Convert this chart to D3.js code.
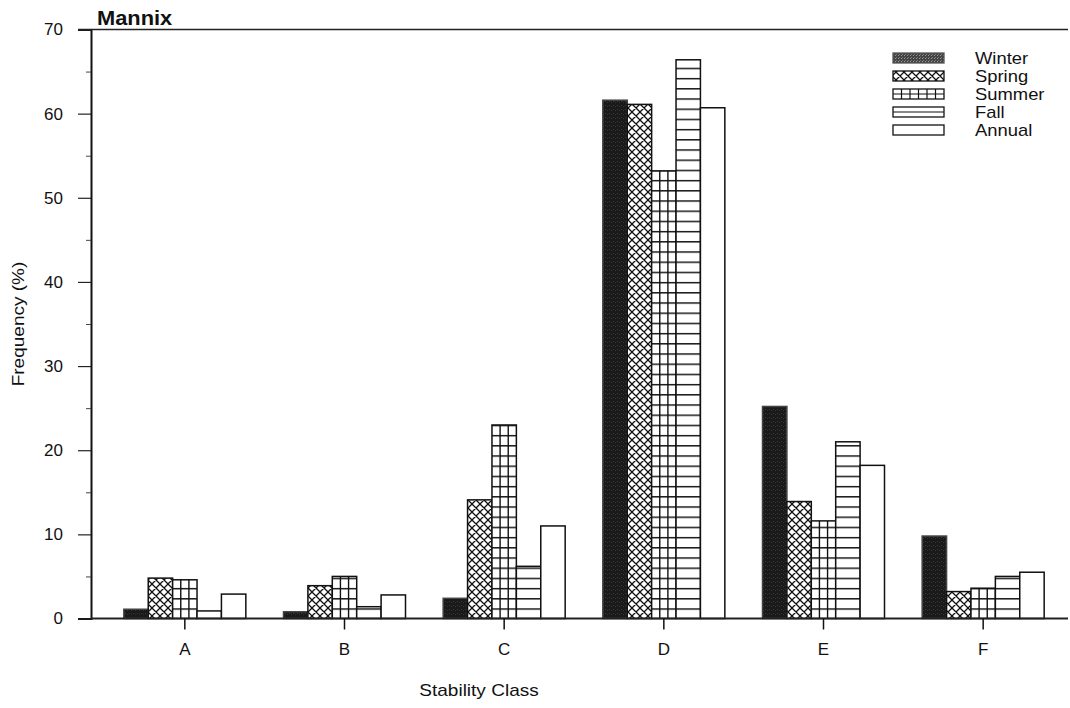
<!DOCTYPE html>
<html><head><meta charset="utf-8">
<script src="https://cdn.jsdelivr.net/npm/d3@7"></script>
<style>body{margin:0;background:#fff}svg{display:block}text{font-family:"Liberation Sans",Arial,sans-serif;fill:#111}</style>
</head><body>
<svg id="c" width="1070" height="708"></svg>
<script>
const categories = ["A","B","C","D","E","F"];
const seriesNames = ["Winter","Spring","Summer","Fall","Annual"];
const winter = [1.1, 0.8, 2.4, 61.6, 25.2, 9.8];
const spring = [4.8, 3.9, 14.1, 61.1, 13.9, 3.2];
const summer = [4.6, 5.0, 23.0, 53.2, 11.6, 3.6];
const fall   = [0.9, 1.4, 6.2, 66.4, 21.0, 5.0];
const annual = [2.9, 2.8, 11.0, 60.7, 18.2, 5.5];
const yTicks = [0,10,20,30,40,50,60,70];
const yMinor = [5,15,25,35,45,55,65];
const values = [winter, spring, summer, fall, annual];

const svg = d3.select("#c");
const y = d3.scaleLinear().domain([0,70]).range([618.5,29.5]);
const x0 = d3.scaleBand().domain(categories).range([105,1063]).padding(0);
const groupW = 122;
const x1 = d3.scaleBand().domain(seriesNames).range([0,groupW]).padding(0);

const defs = svg.append("defs");
// crosshatch
const ph = defs.append("pattern").attr("id","pSpring").attr("patternUnits","userSpaceOnUse")
  .attr("width",8).attr("height",8);
ph.append("rect").attr("width",8).attr("height",8).attr("fill","#fff");
ph.append("path").attr("d","M0,0L8,8M8,0L0,8M-1,7L1,9M7,-1L9,1").attr("stroke","#111").attr("stroke-width",1.3);
// horizontal lines
function hPattern(id, period, offset){
  const p = defs.append("pattern").attr("id",id).attr("patternUnits","userSpaceOnUse")
    .attr("width",20).attr("height",period).attr("patternTransform","translate(0,"+offset+")");
  p.append("rect").attr("width",20).attr("height",period).attr("fill","#fff");
  p.append("line").attr("x1",0).attr("x2",20).attr("y1",0.7).attr("y2",0.7).attr("stroke","#111").attr("stroke-width",1.5);
}
hPattern("pFall", 10.2, y(0)%10.2); hPattern("pSummer", 10.2, y(0)%10.2);
// winter dark speckle
const pw = defs.append("pattern").attr("id","pWinter").attr("patternUnits","userSpaceOnUse").attr("width",4).attr("height",4);
pw.append("rect").attr("width",4).attr("height",4).attr("fill","#1a1a1a");
pw.append("rect").attr("x",1).attr("y",1).attr("width",1).attr("height",1).attr("fill","#3a3a3a");
pw.append("rect").attr("x",3).attr("y",2).attr("width",1).attr("height",1).attr("fill","#333");
const pwl = defs.append("pattern").attr("id","pWinterL").attr("patternUnits","userSpaceOnUse").attr("width",3).attr("height",3);
pwl.append("rect").attr("width",3).attr("height",3).attr("fill","#444");
pwl.append("rect").attr("x",1).attr("y",1).attr("width",1).attr("height",1).attr("fill","#999");
pwl.append("rect").attr("x",2).attr("y",0).attr("width",1).attr("height",1).attr("fill","#777");

const fills = {Winter:"url(#pWinter)",Spring:"url(#pSpring)",Summer:"url(#pSummer)",Fall:"url(#pFall)",Annual:"#fff"};

// bars
const data = [];
categories.forEach((c,i)=>seriesNames.forEach((s,j)=>data.push({c,s,v:values[j][i]})));
const gBars = svg.append("g");
data.forEach(d=>{
  const bx = x0(d.c) + x0.bandwidth()/2 - groupW/2 + x1(d.s);
  const bw = x1.bandwidth();
  gBars.append("rect").attr("x",bx).attr("y",y(d.v)).attr("width",bw).attr("height",y(0)-y(d.v))
    .attr("fill",fills[d.s]).attr("stroke", d.s==="Winter" ? "#444" : "#111").attr("stroke-width",1.5);
  if(d.s==="Summer"){
    [1/3,2/3].forEach(f=>gBars.append("line").attr("x1",bx+bw*f).attr("x2",bx+bw*f)
      .attr("y1",y(d.v)).attr("y2",y(0)).attr("stroke","#111").attr("stroke-width",1.4));
  }
});

// axes
const yAxis = d3.axisLeft(y).tickValues(yTicks).tickSize(13).tickPadding(15).tickFormat(d3.format("d"));
const gy = svg.append("g").attr("transform","translate(91,0)").call(yAxis);
gy.select(".domain").attr("stroke","#111").attr("stroke-width",2);
gy.selectAll(".tick line").attr("stroke","#222").attr("stroke-width",1.2);
gy.selectAll("text").attr("font-size",17).attr("fill","#111");
const gym = svg.append("g").attr("transform","translate(91,0)").call(d3.axisLeft(y).tickValues(yMinor).tickSize(5).tickFormat(""));
gym.select(".domain").remove();
gym.selectAll(".tick line").attr("stroke","#444").attr("stroke-width",1);

// top and bottom lines
svg.append("line").attr("x1",78).attr("x2",1068).attr("y1",y(70)).attr("y2",y(70)).attr("stroke","#222").attr("stroke-width",1.5);
svg.append("line").attr("x1",91).attr("x2",1068).attr("y1",y(0)).attr("y2",y(0)).attr("stroke","#222").attr("stroke-width",2);

const xAxis = d3.axisBottom(x0).tickSize(11).tickPadding(13);
const gx = svg.append("g").attr("transform","translate(0,"+y(0)+")").call(xAxis);
gx.select(".domain").remove();
gx.selectAll(".tick line").attr("stroke","#111").attr("stroke-width",1.5);
gx.selectAll("text").attr("font-size",17).attr("fill","#111");

// titles
svg.append("text").attr("x",97).attr("y",25).attr("font-size",21).attr("font-weight","bold")
  .attr("transform","translate(97,0) scale(1.04,1) translate(-97,0)").text("Mannix");
svg.append("text").attr("transform","translate(24,324) rotate(-90) scale(1.12,1)").attr("text-anchor","middle").attr("font-size",17).text("Frequency (%)");
svg.append("text").attr("transform","translate(479,696) scale(1.12,1)").attr("text-anchor","middle").attr("font-size",17).text("Stability Class");

// legend
const lg = svg.append("g");
const sw = {x:893, w:51, h:10};
seriesNames.forEach((s,i)=>{
  const cy = 58 + i*18;
  const top = cy - sw.h/2;
  const fill = s==="Winter" ? "url(#pWinterL)" : s==="Spring" ? "url(#pSpring)" : "#fff";
  lg.append("rect").attr("x",sw.x).attr("y",top).attr("width",sw.w).attr("height",sw.h)
    .attr("fill",fill).attr("stroke",s==="Winter"?"#555":"#111").attr("stroke-width",1.3);
  if(s==="Summer" || s==="Fall"){
    lg.append("line").attr("x1",sw.x).attr("x2",sw.x+sw.w).attr("y1",cy).attr("y2",cy).attr("stroke","#111").attr("stroke-width",1.2);
  }
  if(s==="Summer"){
    d3.range(1,6).forEach(k=>lg.append("line").attr("x1",sw.x+k*sw.w/6).attr("x2",sw.x+k*sw.w/6)
      .attr("y1",top).attr("y2",top+sw.h).attr("stroke","#111").attr("stroke-width",1.2));
  }
  lg.append("text").attr("transform","translate(975,"+cy+") scale(1.15,1)").attr("dy","0.36em").attr("font-size",16).text(s);
});
</script>
</body></html>
